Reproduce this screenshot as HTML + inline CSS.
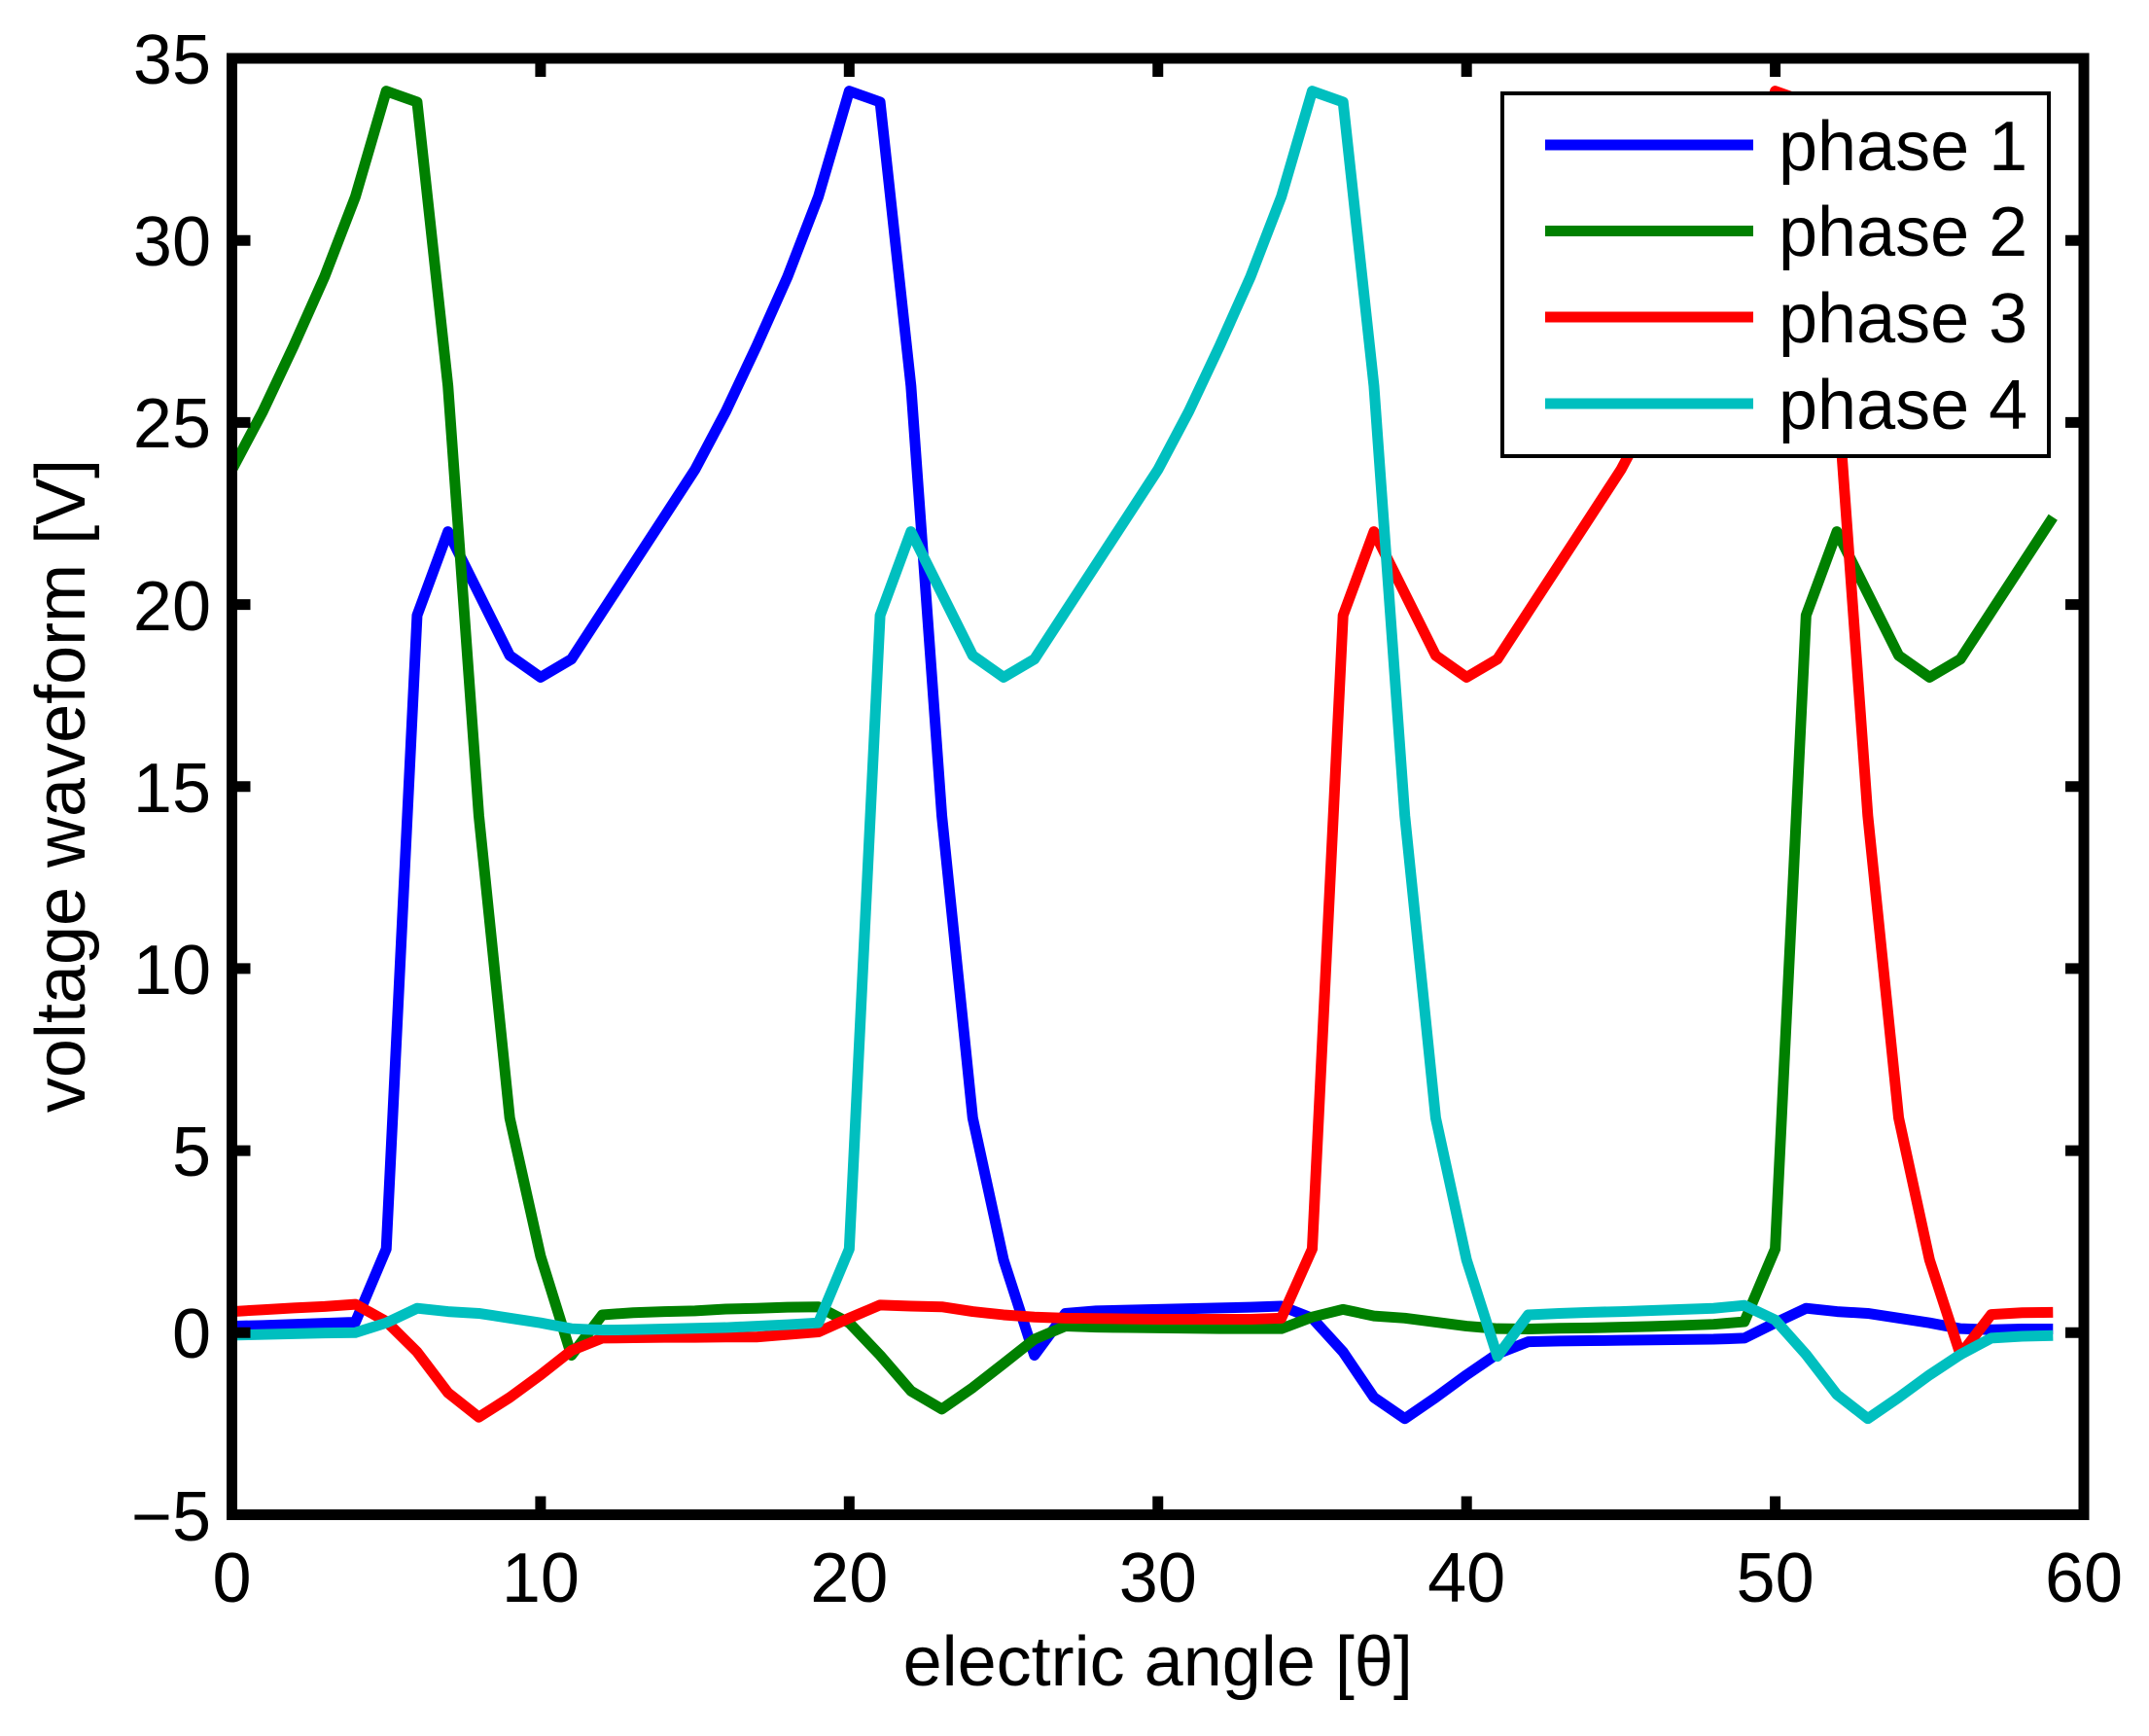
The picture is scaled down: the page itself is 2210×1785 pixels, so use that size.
<!DOCTYPE html>
<html>
<head>
<meta charset="utf-8">
<style>
  html, body { margin: 0; padding: 0; background: #ffffff; }
  svg { display: block; }
  text { font-family: "Liberation Sans", Arial, sans-serif; font-size: 72px; fill: #000; }
</style>
</head>
<body>
<svg width="2210" height="1785" viewBox="0 0 2210 1785" xmlns="http://www.w3.org/2000/svg">
  <rect x="0" y="0" width="2210" height="1785" fill="#ffffff"/>

  <!-- data series in data coordinates -->
  <g transform="matrix(31.742 0 0 -37.4375 238.5 1370.3)" fill="none" stroke-width="11" stroke-linejoin="round" stroke-linecap="butt">
    <polyline vector-effect="non-scaling-stroke" stroke="#0000ff" points="0,0.18 1,0.2 2,0.23 3,0.26 4,0.29 5,2.3 6,19.7 7,22.0 8,20.3 9,18.6 10,18.0 11,18.5 12,19.8 13,21.1 14,22.4 15,23.7 16,25.3 17,27.1 18,29.0 19,31.2 20,34.1 21,33.8 22,26.0 23,14.2 24,5.9 25,2.0 26,-0.62 27,0.53 28,0.6 29,0.62 30,0.64 31,0.66 32,0.68 33,0.7 34,0.73 35,0.4 36,-0.53 37,-1.78 38,-2.36 39,-1.78 40,-1.16 41,-0.58 42,-0.25 43,-0.23 44,-0.22 45,-0.21 46,-0.2 47,-0.19 48,-0.18 49,-0.15 50,0.27 51,0.67 52,0.58 53,0.53 54,0.4 55,0.27 56,0.11 57,0.08 58,0.1 59,0.1"/>
    <polyline vector-effect="non-scaling-stroke" stroke="#008000" points="0,23.7 1,25.3 2,27.1 3,29.0 4,31.2 5,34.1 6,33.8 7,26.0 8,14.2 9,5.9 10,2.1 11,-0.62 12,0.49 13,0.55 14,0.58 15,0.6 16,0.65 17,0.67 18,0.7 19,0.71 20,0.27 21,-0.62 22,-1.6 23,-2.1 24,-1.51 25,-0.85 26,-0.18 27,0.18 28,0.15 29,0.14 30,0.13 31,0.12 32,0.11 33,0.11 34,0.11 35,0.43 36,0.64 37,0.46 38,0.4 39,0.29 40,0.18 41,0.11 42,0.1 43,0.12 44,0.13 45,0.15 46,0.17 47,0.2 48,0.23 49,0.3 50,2.3 51,19.7 52,22.0 53,20.3 54,18.6 55,18.0 56,18.5 57,19.8 58,21.1 59,22.4"/>
    <polyline vector-effect="non-scaling-stroke" stroke="#ff0000" points="0,0.58 1,0.63 2,0.68 3,0.72 4,0.78 5,0.31 6,-0.53 7,-1.65 8,-2.32 9,-1.78 10,-1.16 11,-0.49 12,-0.15 13,-0.14 14,-0.13 15,-0.13 16,-0.12 17,-0.12 18,-0.05 19,0.02 20,0.4 21,0.76 22,0.73 23,0.71 24,0.58 25,0.49 26,0.43 27,0.4 28,0.39 29,0.38 30,0.37 31,0.37 32,0.37 33,0.37 34,0.4 35,2.3 36,19.7 37,22.0 38,20.3 39,18.6 40,18.0 41,18.5 42,19.8 43,21.1 44,22.4 45,23.7 46,25.3 47,27.1 48,29.0 49,31.2 50,34.1 51,33.8 52,26.0 53,14.2 54,5.9 55,2.0 56,-0.6 57,0.5 58,0.55 59,0.56"/>
    <polyline vector-effect="non-scaling-stroke" stroke="#00bfbf" points="0,-0.07 1,-0.05 2,-0.03 3,-0.01 4,0.0 5,0.27 6,0.67 7,0.58 8,0.53 9,0.4 10,0.27 11,0.11 12,0.07 13,0.08 14,0.1 15,0.12 16,0.14 17,0.18 18,0.22 19,0.27 20,2.3 21,19.7 22,22.0 23,20.3 24,18.6 25,18.0 26,18.5 27,19.8 28,21.1 29,22.4 30,23.7 31,25.3 32,27.1 33,29.0 34,31.2 35,34.1 36,33.8 37,26.0 38,14.2 39,5.9 40,2.0 41,-0.65 42,0.49 43,0.53 44,0.56 45,0.58 46,0.61 47,0.64 48,0.67 49,0.75 50,0.35 51,-0.6 52,-1.7 53,-2.36 54,-1.78 55,-1.16 56,-0.6 57,-0.15 58,-0.1 59,-0.08"/>
  </g>

  <!-- axes frame -->
  <rect x="238.5" y="60" width="1904.5" height="1497.5" fill="none" stroke="#000" stroke-width="11"/>

  <!-- ticks -->
  <g stroke="#000" stroke-width="11" fill="none">
    <!-- y ticks left and right -->
    <path d="M238.5 247.2 H257.5 M238.5 434.4 H257.5 M238.5 621.6 H257.5 M238.5 808.75 H257.5 M238.5 995.9 H257.5 M238.5 1183.1 H257.5 M238.5 1370.3 H257.5
             M2143 247.2 H2124 M2143 434.4 H2124 M2143 621.6 H2124 M2143 808.75 H2124 M2143 995.9 H2124 M2143 1183.1 H2124 M2143 1370.3 H2124"/>
    <!-- x ticks bottom and top -->
    <path d="M555.9 1557.5 V1538.5 M873.3 1557.5 V1538.5 M1190.75 1557.5 V1538.5 M1508.2 1557.5 V1538.5 M1825.6 1557.5 V1538.5
             M555.9 60 V79 M873.3 60 V79 M1190.75 60 V79 M1508.2 60 V79 M1825.6 60 V79"/>
  </g>

  <!-- y tick labels -->
  <g text-anchor="end">
    <text x="217" y="86">35</text>
    <text x="217" y="273">30</text>
    <text x="217" y="460">25</text>
    <text x="217" y="648">20</text>
    <text x="217" y="835">15</text>
    <text x="217" y="1022">10</text>
    <text x="217" y="1209">5</text>
    <text x="217" y="1396">0</text>
    <text x="217" y="1584">−5</text>
  </g>

  <!-- x tick labels -->
  <g text-anchor="middle">
    <text x="238.5" y="1647">0</text>
    <text x="555.9" y="1647">10</text>
    <text x="873.3" y="1647">20</text>
    <text x="1190.75" y="1647">30</text>
    <text x="1508.2" y="1647">40</text>
    <text x="1825.6" y="1647">50</text>
    <text x="2143" y="1647">60</text>
  </g>

  <!-- axis labels -->
  <text x="1190.75" y="1733" text-anchor="middle">electric angle [θ]</text>
  <text transform="translate(87 808) rotate(-90)" text-anchor="middle">voltage waveform [V]</text>

  <!-- legend -->
  <rect x="1545" y="96" width="562" height="373" fill="#ffffff" stroke="#000" stroke-width="4"/>
  <g stroke-width="11">
    <line x1="1589" y1="149" x2="1803" y2="149" stroke="#0000ff"/>
    <line x1="1589" y1="237.5" x2="1803" y2="237.5" stroke="#008000"/>
    <line x1="1589" y1="326" x2="1803" y2="326" stroke="#ff0000"/>
    <line x1="1589" y1="415" x2="1803" y2="415" stroke="#00bfbf"/>
  </g>
  <text x="1829" y="175">phase 1</text>
  <text x="1829" y="263">phase 2</text>
  <text x="1829" y="352">phase 3</text>
  <text x="1829" y="441">phase 4</text>
</svg>
</body>
</html>
